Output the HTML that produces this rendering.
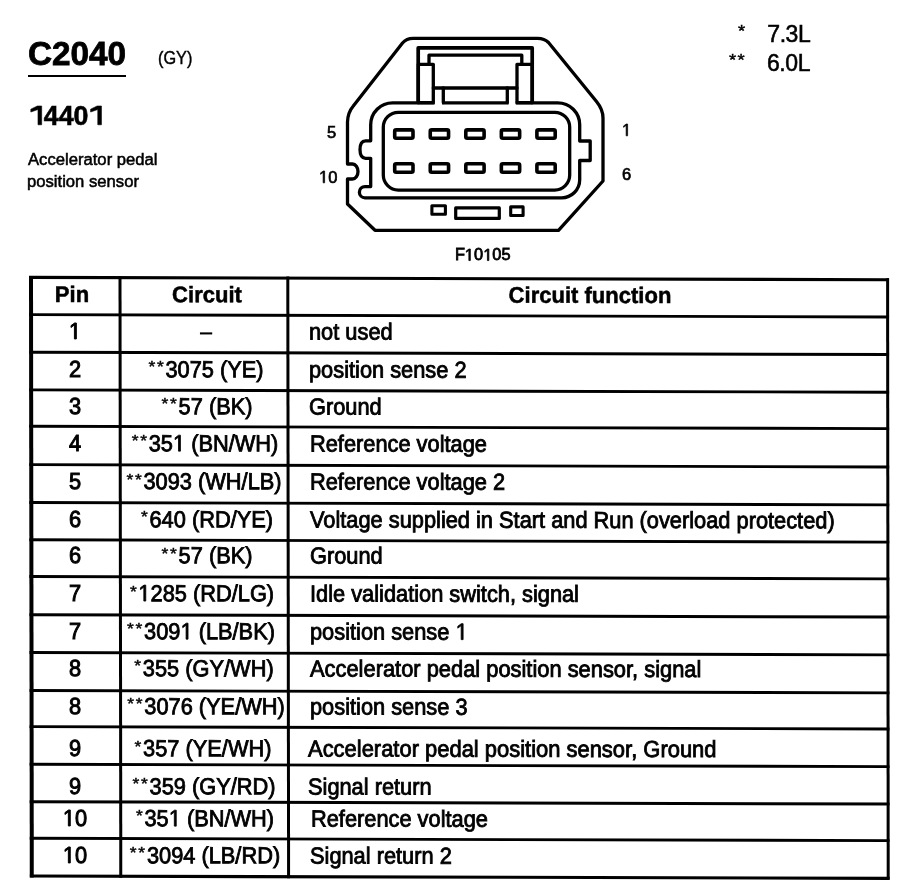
<!DOCTYPE html>
<html><head><meta charset="utf-8"><title>C2040</title>
<style>
html,body{margin:0;padding:0;background:#fff;}
body{width:902px;height:896px;position:relative;overflow:hidden;font-family:"Liberation Sans",sans-serif;color:#000;}
.t{position:absolute;white-space:nowrap;line-height:1;margin:0;padding:0;transform-origin:0 0;}
.ctr{transform-origin:50% 0;}
.ln{position:absolute;background:#000;}
.a{display:inline-block;font-size:.8em;letter-spacing:.1em;position:relative;top:-.15em;transform:scaleY(.84);transform-origin:0 0;-webkit-text-stroke-width:.5px;}
#txt{position:absolute;left:0;top:0;width:902px;height:896px;transform-origin:75px 300px;transform:skewY(0.1deg);}
svg.abs{position:absolute;left:0;top:0;}
.z{font-size:0;letter-spacing:0;-webkit-text-stroke:0;}
.g1{display:inline-block;width:.5562em;height:.688em;overflow:visible;vertical-align:baseline;fill:#000;stroke:#000;stroke-linejoin:miter;}
#page{position:absolute;left:0;top:0;width:902px;height:896px;background:#fff;filter:grayscale(1);}
</style></head><body><div id="page">
<div class="t" style="left:27.60px;top:36.69px;font-size:33.8px;font-weight:bold;-webkit-text-stroke:0.8px #000;transform:scaleX(0.985);">C2040</div>
<div class="ln" style="left:28px;top:75.0px;width:97.8px;height:2.2px;"></div>
<div class="t" style="left:158.30px;top:49.06px;font-size:18.0px;-webkit-text-stroke:0.4px #000;transform:scaleX(0.905);">(GY)</div>
<div class="t" style="left:28.60px;top:101.89px;font-size:27.3px;font-weight:bold;-webkit-text-stroke:0.6px #000;transform:scaleX(0.98);"><span class="z">1</span><svg class="g1" viewBox="0 0 1139 1409" stroke-width="45"><polygon points="689,1409 689,262 140,452 140,236 640,0 970,0 970,1409"/></svg>440<span class="z">1</span><svg class="g1" viewBox="0 0 1139 1409" stroke-width="45"><polygon points="689,1409 689,262 140,452 140,236 640,0 970,0 970,1409"/></svg></div>
<div class="t" style="left:28.30px;top:150.67px;font-size:17.4px;-webkit-text-stroke:0.55px #000;transform:scaleX(0.957);">Accelerator pedal</div>
<div class="t" style="left:26.80px;top:172.67px;font-size:17.4px;-webkit-text-stroke:0.55px #000;transform:scaleX(0.957);">position sensor</div>
<div class="t" style="left:737.60px;top:23.96px;font-size:16px;-webkit-text-stroke:0.4px #000;transform:scaleX(1.15);">*</div>
<div class="t" style="left:767.30px;top:23.13px;font-size:23.0px;letter-spacing:-0.45px;-webkit-text-stroke:0.55px #000;transform:scaleX(1.0);">7.3L</div>
<div class="t" style="left:728.60px;top:53.26px;font-size:16px;letter-spacing:1.2px;-webkit-text-stroke:0.4px #000;transform:scaleX(1.15);">**</div>
<div class="t" style="left:767.00px;top:52.32px;font-size:23.6px;letter-spacing:-0.45px;-webkit-text-stroke:0.55px #000;transform:scaleX(0.975);">6.0L</div>
<div class="t" style="left:326.50px;top:124.44px;font-size:17.2px;-webkit-text-stroke:0.7px #000;transform:scaleX(0.96);">5</div>
<div class="t" style="left:319.00px;top:168.84px;font-size:17.2px;-webkit-text-stroke:0.7px #000;transform:scaleX(0.96);"><span class="z">1</span><svg class="g1" viewBox="0 0 1139 1409" stroke-width="83"><polygon points="515,1409 515,172 197,399 197,229 530,0 696,0 696,1409"/></svg>0</div>
<div class="t" style="left:621.50px;top:121.64px;font-size:17.2px;-webkit-text-stroke:0.7px #000;transform:scaleX(0.96);"><span class="z">1</span><svg class="g1" viewBox="0 0 1139 1409" stroke-width="83"><polygon points="515,1409 515,172 197,399 197,229 530,0 696,0 696,1409"/></svg></div>
<div class="t" style="left:621.80px;top:165.64px;font-size:17.2px;-webkit-text-stroke:0.7px #000;transform:scaleX(0.96);">6</div>
<div class="t" style="left:455.10px;top:247.08px;font-size:16.8px;-webkit-text-stroke:0.8px #000;transform:scaleX(0.975);">F<span class="z">1</span><svg class="g1" viewBox="0 0 1139 1409" stroke-width="98"><polygon points="515,1409 515,172 197,399 197,229 530,0 696,0 696,1409"/></svg>0<span class="z">1</span><svg class="g1" viewBox="0 0 1139 1409" stroke-width="98"><polygon points="515,1409 515,172 197,399 197,229 530,0 696,0 696,1409"/></svg>05</div>
<svg class="abs" width="902" height="270" viewBox="0 0 902 270" fill="none" stroke="#000" stroke-width="3.3" stroke-linejoin="round" stroke-linecap="round">
<path d="M413 38.3 H537.5 Q544.5 38.3 548.5 42.5 L596.5 101.5 Q603 109.5 603 118 V181 L558.5 230.3 H375 L347.5 204 V179 H352.5 A5.5 7.5 0 0 0 352.5 164 H347.5 V122 Q347.8 112.5 353.3 106 L402.5 43 Q406.5 38.3 413 38.3 Z"/>
<path d="M392.7 102.8 H557.7 A22 22 0 0 1 579.7 124.8 V141 H590.2 V160.5 H579.7 V179.8 A18 18 0 0 1 561.7 197.8 H365 A5.6 5.6 0 0 1 365 186.6 H370.7 V158.3 H365.5 Q360 158 360 149.5 Q360 141 365.5 140.8 H370.7 V124.8 A22 22 0 0 1 392.7 102.8 Z"/>
<path d="M434.6 102.8 H442 M508.6 102.8 H515.7" stroke="#fff" stroke-width="4.4" stroke-linecap="butt"/>
<path d="M418.2 102.5 V47.9 H532.2 V102.5" stroke-width="3.7"/>
<path d="M429 64 V55.2 H521.8 V64"/>
<rect x="418.3" y="64.3" width="15" height="38.4"/>
<rect x="517" y="64.3" width="15.3" height="38.4"/>
<path d="M433.3 88 H517"/>
<path d="M443.3 88 V102.6 M507.3 88 V102.6"/>
<rect x="383.3" y="112.3" width="186.4" height="77.8" rx="15" ry="15"/>
<rect x="394.70" y="129.9" width="18.3" height="8.4" rx="1.5" stroke-width="3.6"/>
<rect x="394.70" y="163.8" width="18.3" height="8.4" rx="1.5" stroke-width="3.6"/>
<rect x="430.25" y="129.9" width="18.3" height="8.4" rx="1.5" stroke-width="3.6"/>
<rect x="430.25" y="163.8" width="18.3" height="8.4" rx="1.5" stroke-width="3.6"/>
<rect x="465.80" y="129.9" width="18.3" height="8.4" rx="1.5" stroke-width="3.6"/>
<rect x="465.80" y="163.8" width="18.3" height="8.4" rx="1.5" stroke-width="3.6"/>
<rect x="501.35" y="129.9" width="18.3" height="8.4" rx="1.5" stroke-width="3.6"/>
<rect x="501.35" y="163.8" width="18.3" height="8.4" rx="1.5" stroke-width="3.6"/>
<rect x="536.90" y="129.9" width="18.3" height="8.4" rx="1.5" stroke-width="3.6"/>
<rect x="536.90" y="163.8" width="18.3" height="8.4" rx="1.5" stroke-width="3.6"/>
<rect x="431.9" y="205.8" width="13.5" height="8.4" stroke-width="3.1"/>
<rect x="455.7" y="207.9" width="43.6" height="10.5" stroke-width="3.2"/>
<rect x="510.7" y="206.9" width="12.4" height="8.6" stroke-width="3.1"/>
</svg>
<svg class="abs" width="902" height="896" viewBox="0 0 902 896" stroke="#000" stroke-linecap="butt" fill="none">
<line x1="29.00" y1="277.40" x2="889.00" y2="279.75" stroke-width="3.1"/>
<line x1="29.05" y1="314.60" x2="889.04" y2="316.95" stroke-width="2.9"/>
<line x1="29.10" y1="352.20" x2="889.07" y2="354.55" stroke-width="2.9"/>
<line x1="29.15" y1="389.90" x2="889.11" y2="392.25" stroke-width="2.9"/>
<line x1="29.20" y1="426.30" x2="889.15" y2="428.65" stroke-width="2.9"/>
<line x1="29.25" y1="464.60" x2="889.19" y2="466.95" stroke-width="2.9"/>
<line x1="29.30" y1="502.50" x2="889.23" y2="504.85" stroke-width="2.9"/>
<line x1="29.35" y1="539.80" x2="889.26" y2="542.15" stroke-width="2.9"/>
<line x1="29.40" y1="576.50" x2="889.30" y2="578.85" stroke-width="2.9"/>
<line x1="29.45" y1="614.70" x2="889.34" y2="617.05" stroke-width="2.9"/>
<line x1="29.50" y1="652.50" x2="889.38" y2="654.85" stroke-width="2.9"/>
<line x1="29.55" y1="690.50" x2="889.41" y2="692.85" stroke-width="2.9"/>
<line x1="29.60" y1="726.60" x2="889.45" y2="728.95" stroke-width="2.9"/>
<line x1="29.65" y1="764.30" x2="889.49" y2="766.65" stroke-width="2.9"/>
<line x1="29.70" y1="801.70" x2="889.53" y2="804.05" stroke-width="2.9"/>
<line x1="29.75" y1="838.30" x2="889.56" y2="840.65" stroke-width="2.9"/>
<line x1="29.80" y1="876.00" x2="889.60" y2="878.35" stroke-width="3.1"/>
<line x1="31.00" y1="275.91" x2="31.80" y2="877.51" stroke-width="4.0"/>
<line x1="120.00" y1="276.15" x2="120.80" y2="877.75" stroke-width="3.0"/>
<line x1="287.80" y1="276.61" x2="288.60" y2="878.21" stroke-width="3.0"/>
<line x1="887.60" y1="278.25" x2="888.20" y2="879.85" stroke-width="3.0"/>
</svg>
<div id="txt">
<div class="t ctr" style="left:72.30px;top:283.57px;font-size:22.6px;font-weight:bold;-webkit-text-stroke:0.5px #000;transform:translateX(-50%) scaleX(0.975);">Pin</div>
<div class="t ctr" style="left:206.50px;top:283.57px;font-size:22.6px;font-weight:bold;-webkit-text-stroke:0.5px #000;transform:translateX(-50%) scaleX(0.975);">Circuit</div>
<div class="t ctr" style="left:589.80px;top:283.67px;font-size:22.6px;font-weight:bold;-webkit-text-stroke:0.5px #000;transform:translateX(-50%) scaleX(0.975);">Circuit function</div>
<div class="t ctr" style="left:75.30px;top:320.36px;font-size:23.2px;-webkit-text-stroke:1.0px #000;transform:translateX(-50%) scaleX(0.94);"><span class="z">1</span><svg class="g1" viewBox="0 0 1139 1409" stroke-width="88"><polygon points="515,1409 515,172 197,399 197,229 530,0 696,0 696,1409"/></svg></div>
<div class="t ctr" style="left:206.00px;top:320.36px;font-size:23.2px;-webkit-text-stroke:0.1px #000;transform:translateX(-50%) scaleX(0.94);">–</div>
<div class="t" style="left:308.90px;top:320.36px;font-size:23.2px;-webkit-text-stroke:0.85px #000;transform:scaleX(0.94);">not used</div>
<div class="t ctr" style="left:75.30px;top:357.66px;font-size:23.2px;-webkit-text-stroke:1.0px #000;transform:translateX(-50%) scaleX(0.94);">2</div>
<div class="t ctr" style="left:206.00px;top:357.66px;font-size:23.2px;-webkit-text-stroke:0.85px #000;transform:translateX(-50%) scaleX(0.94);"><span class="a">**</span>3075 (YE)</div>
<div class="t" style="left:308.90px;top:357.66px;font-size:23.2px;-webkit-text-stroke:0.85px #000;transform:scaleX(0.94);">position sense 2</div>
<div class="t ctr" style="left:75.30px;top:395.16px;font-size:23.2px;-webkit-text-stroke:1.0px #000;transform:translateX(-50%) scaleX(0.94);">3</div>
<div class="t ctr" style="left:206.70px;top:395.16px;font-size:23.2px;-webkit-text-stroke:0.85px #000;transform:translateX(-50%) scaleX(0.94);"><span class="a">**</span>57 (BK)</div>
<div class="t" style="left:308.90px;top:395.16px;font-size:23.2px;-webkit-text-stroke:0.85px #000;transform:scaleX(0.94);">Ground</div>
<div class="t ctr" style="left:75.30px;top:432.16px;font-size:23.2px;-webkit-text-stroke:1.0px #000;transform:translateX(-50%) scaleX(0.94);">4</div>
<div class="t ctr" style="left:204.80px;top:432.16px;font-size:23.2px;-webkit-text-stroke:0.85px #000;transform:translateX(-50%) scaleX(0.94);"><span class="a">**</span>35<span class="z">1</span><svg class="g1" viewBox="0 0 1139 1409" stroke-width="75"><polygon points="515,1409 515,172 197,399 197,229 530,0 696,0 696,1409"/></svg> (BN/WH)</div>
<div class="t" style="left:310.30px;top:432.16px;font-size:23.2px;-webkit-text-stroke:0.85px #000;transform:scaleX(0.94);">Reference voltage</div>
<div class="t ctr" style="left:75.30px;top:470.46px;font-size:23.2px;-webkit-text-stroke:1.0px #000;transform:translateX(-50%) scaleX(0.94);">5</div>
<div class="t ctr" style="left:204.00px;top:470.46px;font-size:23.2px;-webkit-text-stroke:0.85px #000;transform:translateX(-50%) scaleX(0.94);"><span class="a">**</span>3093 (WH/LB)</div>
<div class="t" style="left:310.30px;top:470.46px;font-size:23.2px;-webkit-text-stroke:0.85px #000;transform:scaleX(0.94);">Reference voltage 2</div>
<div class="t ctr" style="left:75.30px;top:508.26px;font-size:23.2px;-webkit-text-stroke:1.0px #000;transform:translateX(-50%) scaleX(0.94);">6</div>
<div class="t ctr" style="left:206.80px;top:508.26px;font-size:23.2px;-webkit-text-stroke:0.85px #000;transform:translateX(-50%) scaleX(0.94);"><span class="a">*</span>640 (RD/YE)</div>
<div class="t" style="left:310.10px;top:508.26px;font-size:23.2px;-webkit-text-stroke:0.85px #000;transform:scaleX(0.94);">Voltage supplied in Start and Run (overload protected)</div>
<div class="t ctr" style="left:75.30px;top:544.36px;font-size:23.2px;-webkit-text-stroke:1.0px #000;transform:translateX(-50%) scaleX(0.94);">6</div>
<div class="t ctr" style="left:206.70px;top:544.36px;font-size:23.2px;-webkit-text-stroke:0.85px #000;transform:translateX(-50%) scaleX(0.94);"><span class="a">**</span>57 (BK)</div>
<div class="t" style="left:309.60px;top:544.36px;font-size:23.2px;-webkit-text-stroke:0.85px #000;transform:scaleX(0.94);">Ground</div>
<div class="t ctr" style="left:75.30px;top:582.36px;font-size:23.2px;-webkit-text-stroke:1.0px #000;transform:translateX(-50%) scaleX(0.94);">7</div>
<div class="t ctr" style="left:201.50px;top:582.36px;font-size:23.2px;-webkit-text-stroke:0.85px #000;transform:translateX(-50%) scaleX(0.94);"><span class="a">*</span><span class="z">1</span><svg class="g1" viewBox="0 0 1139 1409" stroke-width="75"><polygon points="515,1409 515,172 197,399 197,229 530,0 696,0 696,1409"/></svg>285 (RD/LG)</div>
<div class="t" style="left:309.80px;top:582.36px;font-size:23.2px;-webkit-text-stroke:0.85px #000;transform:scaleX(0.94);">Idle validation switch, signal</div>
<div class="t ctr" style="left:75.30px;top:620.26px;font-size:23.2px;-webkit-text-stroke:1.0px #000;transform:translateX(-50%) scaleX(0.94);">7</div>
<div class="t ctr" style="left:201.10px;top:620.26px;font-size:23.2px;-webkit-text-stroke:0.85px #000;transform:translateX(-50%) scaleX(0.94);"><span class="a">**</span>309<span class="z">1</span><svg class="g1" viewBox="0 0 1139 1409" stroke-width="75"><polygon points="515,1409 515,172 197,399 197,229 530,0 696,0 696,1409"/></svg> (LB/BK)</div>
<div class="t" style="left:310.20px;top:620.26px;font-size:23.2px;-webkit-text-stroke:0.85px #000;transform:scaleX(0.94);">position sense <span class="z">1</span><svg class="g1" viewBox="0 0 1139 1409" stroke-width="75"><polygon points="515,1409 515,172 197,399 197,229 530,0 696,0 696,1409"/></svg></div>
<div class="t ctr" style="left:75.30px;top:656.76px;font-size:23.2px;-webkit-text-stroke:1.0px #000;transform:translateX(-50%) scaleX(0.94);">8</div>
<div class="t ctr" style="left:204.00px;top:656.76px;font-size:23.2px;-webkit-text-stroke:0.85px #000;transform:translateX(-50%) scaleX(0.94);"><span class="a">*</span>355 (GY/WH)</div>
<div class="t" style="left:309.80px;top:656.76px;font-size:23.2px;-webkit-text-stroke:0.85px #000;transform:scaleX(0.943);">Accelerator pedal position sensor, signal</div>
<div class="t ctr" style="left:75.30px;top:694.56px;font-size:23.2px;-webkit-text-stroke:1.0px #000;transform:translateX(-50%) scaleX(0.94);">8</div>
<div class="t ctr" style="left:206.30px;top:694.56px;font-size:23.2px;-webkit-text-stroke:0.85px #000;transform:translateX(-50%) scaleX(0.94);"><span class="a">**</span>3076 (YE/WH)</div>
<div class="t" style="left:310.20px;top:694.56px;font-size:23.2px;-webkit-text-stroke:0.85px #000;transform:scaleX(0.94);">position sense 3</div>
<div class="t ctr" style="left:75.30px;top:737.46px;font-size:23.2px;-webkit-text-stroke:1.0px #000;transform:translateX(-50%) scaleX(0.94);">9</div>
<div class="t ctr" style="left:202.70px;top:737.46px;font-size:23.2px;-webkit-text-stroke:0.85px #000;transform:translateX(-50%) scaleX(0.94);"><span class="a">*</span>357 (YE/WH)</div>
<div class="t" style="left:307.60px;top:737.46px;font-size:23.2px;-webkit-text-stroke:0.85px #000;transform:scaleX(0.946);">Accelerator pedal position sensor, Ground</div>
<div class="t ctr" style="left:75.30px;top:774.76px;font-size:23.2px;-webkit-text-stroke:1.0px #000;transform:translateX(-50%) scaleX(0.94);">9</div>
<div class="t ctr" style="left:204.00px;top:774.76px;font-size:23.2px;-webkit-text-stroke:0.85px #000;transform:translateX(-50%) scaleX(0.94);"><span class="a">**</span>359 (GY/RD)</div>
<div class="t" style="left:307.80px;top:774.76px;font-size:23.2px;-webkit-text-stroke:0.85px #000;transform:scaleX(0.94);">Signal return</div>
<div class="t ctr" style="left:75.30px;top:807.06px;font-size:23.2px;-webkit-text-stroke:1.0px #000;transform:translateX(-50%) scaleX(0.94);"><span class="z">1</span><svg class="g1" viewBox="0 0 1139 1409" stroke-width="88"><polygon points="515,1409 515,172 197,399 197,229 530,0 696,0 696,1409"/></svg>0</div>
<div class="t ctr" style="left:205.00px;top:807.06px;font-size:23.2px;-webkit-text-stroke:0.85px #000;transform:translateX(-50%) scaleX(0.94);"><span class="a">*</span>35<span class="z">1</span><svg class="g1" viewBox="0 0 1139 1409" stroke-width="75"><polygon points="515,1409 515,172 197,399 197,229 530,0 696,0 696,1409"/></svg> (BN/WH)</div>
<div class="t" style="left:311.20px;top:807.06px;font-size:23.2px;-webkit-text-stroke:0.85px #000;transform:scaleX(0.94);">Reference voltage</div>
<div class="t ctr" style="left:75.30px;top:844.16px;font-size:23.2px;-webkit-text-stroke:1.0px #000;transform:translateX(-50%) scaleX(0.94);"><span class="z">1</span><svg class="g1" viewBox="0 0 1139 1409" stroke-width="88"><polygon points="515,1409 515,172 197,399 197,229 530,0 696,0 696,1409"/></svg>0</div>
<div class="t ctr" style="left:205.00px;top:844.16px;font-size:23.2px;-webkit-text-stroke:0.85px #000;transform:translateX(-50%) scaleX(0.94);"><span class="a">**</span>3094 (LB/RD)</div>
<div class="t" style="left:310.40px;top:844.16px;font-size:23.2px;-webkit-text-stroke:0.85px #000;transform:scaleX(0.94);">Signal return 2</div>
</div>
</div></body></html>
